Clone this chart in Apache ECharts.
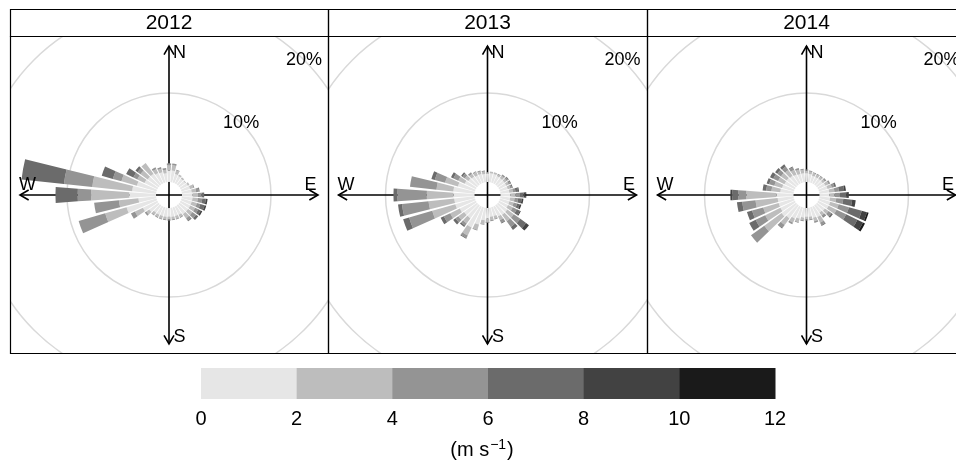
<!DOCTYPE html>
<html>
<head>
<meta charset="utf-8">
<script src="https://cdn.jsdelivr.net/npm/echarts@6/dist/echarts.min.js"></script>
<style>
  html, body { margin: 0; padding: 0; background: #fff; }
  #wrap { position: relative; width: 956px; height: 468px; overflow: hidden; background: #fff; }
  .panel { position: absolute; overflow: hidden; }
  #frame { position: absolute; left: 0; top: 0; width: 956px; height: 468px; z-index: 5; pointer-events: none; }
</style>
</head>
<body>
<div id="wrap">
  <div class="panel" id="p0"></div>
  <div class="panel" id="p1"></div>
  <div class="panel" id="p2"></div>
  <div id="frame"></div>
</div>
<script>
// Wind direction sectors (degrees, clockwise from north)
const directions = ['10','20','30','40','50','60','70','80','90','100','110','120',
  '130','140','150','160','170','180','190','200','210','220','230','240',
  '250','260','270','280','290','300','310','320','330','340','350','360'];

// Wind speed class breaks (m/s) and their fills
const speedBreaks = [0, 2, 4, 6, 8, 10, 12];
const speedColors = ['#E6E6E6', '#BDBDBD', '#949494', '#6B6B6B', '#424242', '#1A1A1A'];

const years = ['2012', '2013', '2014'];

// Frequency (%) per direction, split by speed class [0-2, 2-4, 4-6, 6-8, 8-10, 10-12]
const rose2012 = [
  [1.3,0.6,0.2,0,0,0], [1.0,0.4,0.1,0,0,0], [0.9,0.2,0,0,0,0], [0.8,0.2,0,0,0,0],
  [0.8,0.1,0,0,0,0], [0.9,0.2,0,0,0,0], [1.0,0.4,0.1,0,0,0], [1.1,0.5,0.3,0.1,0,0],
  [1.2,0.6,0.4,0.3,0,0], [1.2,0.6,0.5,0.4,0.2,0], [1.2,0.6,0.4,0.5,0.2,0], [1.2,0.6,0.4,0.3,0.2,0],
  [1.2,0.6,0.5,0.3,0,0], [1.2,0.6,0.3,0.1,0,0], [1.0,0.3,0.1,0,0,0], [1.0,0.3,0.1,0,0,0],
  [1.0,0.3,0.1,0,0,0], [1.0,0.3,0.1,0,0,0], [1.0,0.3,0.1,0,0,0], [1.0,0.3,0.1,0,0,0],
  [1.0,0.3,0.1,0,0,0], [1.0,0.3,0.1,0,0,0], [1.3,0.4,0.2,0,0,0], [1.8,1.0,0.5,0,0,0],
  [3.5,2.5,3.1,0,0,0], [2.0,2.2,2.8,0,0,0], [3.0,4.3,1.5,2.5,0,0], [2.7,4.5,3.2,4.8,0,0],
  [2.3,1.8,1.0,1.3,0,0], [1.6,0.9,0.5,0.9,0,0], [1.5,1.0,0.4,0.3,0,0], [1.5,1.5,0,0,0,0],
  [1.3,0.5,0.2,0,0,0], [1.2,0.4,0.2,0,0,0], [1.0,0.4,0.2,0,0,0], [1.3,0.6,0.2,0,0,0]
];
const rose2013 = [
  [1.0,0.2,0,0,0,0], [1.0,0.2,0,0,0,0], [0.9,0.2,0.1,0,0,0], [0.9,0.3,0.2,0,0,0],
  [0.9,0.3,0.2,0.1,0,0], [0.9,0.3,0.2,0.1,0,0], [0.9,0.3,0.2,0.1,0,0], [1.0,0.4,0.3,0.3,0.1,0],
  [1.1,0.6,0.5,0.4,0.2,0.1], [1.1,0.5,0.4,0.4,0.2,0], [1.1,0.5,0.4,0.3,0.2,0], [1.1,0.6,0.5,0.4,0.1,0],
  [1.3,0.9,0.9,0.8,0.4,0], [1.3,0.9,0.8,0.4,0,0], [1.2,0.5,0.3,0.1,0,0], [1.0,0.3,0.1,0,0,0],
  [1.0,0.4,0.1,0,0,0], [1.2,0.4,0.1,0,0,0], [1.4,0.4,0.1,0,0,0], [2.0,0.6,0.1,0,0,0],
  [2.6,1.0,0.3,0.1,0,0], [1.8,0.7,0.3,0.2,0,0], [1.8,0.8,0.4,0.3,0,0], [2.0,1.2,0.8,0.4,0,0],
  [2.3,2.7,2.7,0.7,0,0], [2.3,2.9,3.0,0.45,0,0], [2.36,3.0,3.3,0.45,0,0], [2.4,1.9,3.0,0,0,0],
  [2.0,1.5,1.2,0.4,0,0], [1.4,0.8,0.6,0.3,0,0], [1.2,0.5,0.3,0.2,0,0], [1.1,0.4,0.2,0,0,0],
  [1.0,0.4,0.1,0,0,0], [1.0,0.3,0.1,0,0,0], [0.9,0.3,0.1,0,0,0], [0.9,0.2,0,0,0,0]
];
const rose2014 = [
  [0.9,0.3,0.1,0,0,0], [0.8,0.3,0.1,0,0,0], [0.8,0.3,0.1,0,0,0], [0.8,0.3,0.1,0,0,0],
  [0.8,0.3,0.2,0,0,0], [0.9,0.4,0.2,0,0,0], [1.0,0.5,0.3,0.2,0,0], [1.1,0.6,0.5,0.6,0.2,0],
  [1.1,0.6,0.6,0.7,0.3,0], [1.2,0.7,0.8,1.0,0.4,0], [1.3,1.0,1.2,1.5,0.6,0.2], [1.3,1.0,1.2,1.4,0.7,0.25],
  [1.1,0.5,0.4,0.2,0,0], [1.0,0.4,0.2,0.1,0,0], [1.3,0.7,0.3,0.1,0,0], [1.2,0.4,0.2,0,0,0],
  [1.0,0.3,0.1,0,0,0], [1.0,0.3,0.1,0,0,0], [1.1,0.3,0.1,0,0,0], [1.3,0.4,0.1,0,0,0],
  [1.5,0.5,0.2,0,0,0], [1.8,0.9,0.4,0.1,0,0], [2.0,2.4,1.85,0,0,0], [1.8,1.9,1.2,0.8,0,0],
  [1.8,1.8,1.3,0.6,0,0], [1.8,2.5,1.5,0.6,0,0], [1.9,3.4,0.9,0.7,0.2,0], [1.5,1.0,0.6,0.4,0,0],
  [1.4,0.9,0.6,0.3,0,0], [1.3,0.8,0.6,0.4,0,0], [1.3,0.8,0.5,0.3,0,0], [1.2,0.8,0.5,0.3,0,0],
  [1.1,0.6,0.3,0.1,0,0], [1.0,0.5,0.2,0,0,0], [1.0,0.4,0.1,0,0,0], [1.0,0.3,0.1,0,0,0]
];
const roses = [rose2012, rose2013, rose2014];

// Grid rings (%)
const ringValues = [10, 20];

// Layout
const PANEL_EDGES = [10, 328, 647, 966];
const STRIP_TOP = 9, PANEL_TOP = 36, PANEL_BOTTOM = 353;
const CENTER_Y = 195;
const PX_PER_PCT = 8.9;     // radial scale
const HOLE = 1.46;          // centre hole, in % units
const RING_MAX = 20;        // outer extent of the radial axis
const AXIS_LEN = 16.74;     // compass arrow half length, % units from centre
const HEAD_LEN = 1.12;      // arrow head length, % units
const FONT = 'Liberation Sans, Arial, Helvetica, sans-serif';

function roseOption(rows, width, height) {
  const cx = width / 2;
  const cy = CENTER_Y - PANEL_TOP;
  const S = 17.5; // half extent of the overlay plane for arrows and text
  const A = AXIS_LEN;
  const hx = HEAD_LEN * Math.sin(Math.PI / 6);
  const hy = HEAD_LEN * Math.cos(Math.PI / 6);

  const bars = speedColors.map((color, b) => ({
    type: 'bar',
    coordinateSystem: 'polar',
    polarIndex: 0,
    stack: 'rose',
    barCategoryGap: '20%',
    data: rows.map(r => r[b]),
    itemStyle: { color: color },
    silent: true,
    z: 3
  }));

  const arrows = [
    { coords: [[-A, 0], [A, 0]] },
    { coords: [[0, -A], [0, A]] },
    { coords: [[A - hy, hx], [A, 0], [A - hy, -hx]] },
    { coords: [[-A + hy, hx], [-A, 0], [-A + hy, -hx]] },
    { coords: [[hx, A - hy], [0, A], [-hx, A - hy]] },
    { coords: [[hx, -A + hy], [0, -A], [-hx, -A + hy]] }
  ];
  const compass = [
    { name: 'N', value: [0.07 * A, 0.95 * A] },
    { name: 'E', value: [0.95 * A, 0.07 * A] },
    { name: 'S', value: [0.07 * A, -0.95 * A] },
    { name: 'W', value: [-0.95 * A, 0.07 * A] }
  ];
  const ringText = ringValues.map(v => ({
    name: v + '%',
    value: [(v + HOLE) * Math.SQRT1_2, (v + HOLE) * Math.SQRT1_2]
  }));

  return {
    animation: false,
    polar: [{
      center: [cx, cy],
      radius: [HOLE * PX_PER_PCT, (RING_MAX + HOLE) * PX_PER_PCT]
    }],
    angleAxis: [{
      polarIndex: 0,
      type: 'category',
      data: directions,
      startAngle: 85,
      clockwise: true,
      boundaryGap: true,
      axisLine: { show: false },
      axisTick: { show: false },
      axisLabel: { show: false },
      splitLine: { show: false }
    }],
    radiusAxis: [{
      polarIndex: 0,
      type: 'value',
      min: 0,
      max: RING_MAX,
      interval: 10,
      axisLine: { show: false },
      axisTick: { show: false },
      axisLabel: { show: false },
      splitLine: { show: true, lineStyle: { color: ['rgba(0,0,0,0)', '#d9d9d9', '#d9d9d9'], width: 1.5 } }
    }],
    grid: [{
      left: cx - S * PX_PER_PCT,
      top: cy - S * PX_PER_PCT,
      width: 2 * S * PX_PER_PCT,
      height: 2 * S * PX_PER_PCT
    }],
    xAxis: [{ type: 'value', min: -S, max: S, show: false }],
    yAxis: [{ type: 'value', min: -S, max: S, show: false }],
    series: [
      {
        type: 'lines',
        coordinateSystem: 'cartesian2d',
        polyline: true,
        silent: true,
        data: arrows,
        lineStyle: { color: '#000', width: 1.6, opacity: 1 },
        z: 2
      },
      ...bars,
      {
        type: 'scatter',
        coordinateSystem: 'cartesian2d',
        symbolSize: 0,
        silent: true,
        itemStyle: { opacity: 1 },
        data: compass.concat(ringText),
        label: {
          show: true, position: 'inside', formatter: '{b}',
          color: '#000', opacity: 1, fontSize: 18, fontFamily: FONT
        },
        z: 5
      }
    ]
  };
}

// Panels
for (let i = 0; i < 3; i++) {
  const el = document.getElementById('p' + i);
  const w = PANEL_EDGES[i + 1] - PANEL_EDGES[i];
  const h = PANEL_BOTTOM - PANEL_TOP;
  el.style.left = PANEL_EDGES[i] + 'px';
  el.style.top = PANEL_TOP + 'px';
  el.style.width = w + 'px';
  el.style.height = h + 'px';
  const chart = echarts.init(el, null, { renderer: 'canvas' });
  chart.setOption(roseOption(roses[i], w, h));
}

// Strips, panel borders and the speed key
const frame = echarts.init(document.getElementById('frame'), null, { renderer: 'canvas' });
const g = [];
for (let i = 0; i < 3; i++) {
  const x0 = PANEL_EDGES[i] + 0.5;
  const w = PANEL_EDGES[i + 1] - PANEL_EDGES[i];
  g.push({ type: 'rect', shape: { x: x0, y: STRIP_TOP + 0.5, width: w, height: PANEL_TOP - STRIP_TOP },
           style: { fill: 'none', stroke: '#000', lineWidth: 1.2 } });
  g.push({ type: 'rect', shape: { x: x0, y: PANEL_TOP + 0.5, width: w, height: PANEL_BOTTOM - PANEL_TOP },
           style: { fill: 'none', stroke: '#000', lineWidth: 1.2 } });
  g.push({ type: 'text', x: PANEL_EDGES[i] + w / 2, y: (STRIP_TOP + PANEL_TOP) / 2 + 1,
           style: { text: years[i], font: '21px ' + FONT, fill: '#000', textAlign: 'center', textVerticalAlign: 'middle' } });
}
const KEY_LEFT = 201, KEY_RIGHT = 775, KEY_TOP = 368, KEY_BOTTOM = 399;
const step = (KEY_RIGHT - KEY_LEFT) / speedColors.length;
speedColors.forEach((c, k) => {
  g.push({ type: 'rect', shape: { x: KEY_LEFT + k * step, y: KEY_TOP, width: step + 0.5, height: KEY_BOTTOM - KEY_TOP },
           style: { fill: c, stroke: null } });
});
speedBreaks.forEach((v, k) => {
  g.push({ type: 'text', x: KEY_LEFT + k * step, y: 419,
           style: { text: String(v), font: '20px ' + FONT, fill: '#000', textAlign: 'center', textVerticalAlign: 'middle' } });
});
g.push({ type: 'text', x: 482, y: 450,
         style: { text: '{a|(m s}{b|\u22121}{a|)}', textAlign: 'center', textVerticalAlign: 'middle',
                  rich: { a: { font: '20px ' + FONT, fill: '#000', lineHeight: 24 },
                          b: { font: '14px ' + FONT, fill: '#000', verticalAlign: 'top', lineHeight: 24, padding: [0, 1, 0, 1] } } } });
frame.setOption({ animation: false, graphic: g });
</script>
</body>
</html>
